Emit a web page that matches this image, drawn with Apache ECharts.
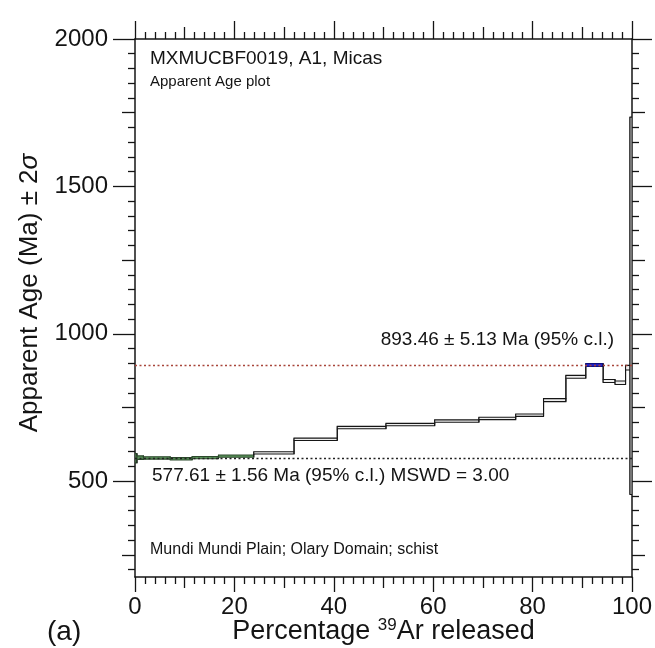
<!DOCTYPE html>
<html><head><meta charset="utf-8">
<script src="https://cdn.jsdelivr.net/npm/echarts@6/dist/echarts.min.js"></script>
<style>html,body{margin:0;padding:0;background:#fff}#c{width:655px;height:648px}</style>
</head><body><div id="c"></div>
<script>
// ---- data ----
const stepStart = [0, 0.4, 1.7, 7.1, 11.5, 16.8, 23.9, 32.0, 40.7, 50.5, 60.3, 69.2, 76.6, 82.2, 86.7, 90.7, 94.2, 96.6, 98.7, 99.6];
const stepEnd   = [0.4, 1.7, 7.1, 11.5, 16.8, 23.9, 32.0, 40.7, 50.5, 60.3, 69.2, 76.6, 82.2, 86.7, 90.7, 94.2, 96.6, 98.7, 99.6, 100];
const stepAge   = [578, 580, 579, 576, 580, 585, 596, 642, 682, 692, 704, 713, 724, 775, 854, 894, 840, 834, 885, 1095];
const stepErr2s = [16, 6, 4, 4, 4, 4, 4, 4, 4, 4, 4, 4, 4, 5, 5, 5, 5, 6, 8, 640];
const plateauSteps = [0, 1, 2, 3, 4, 5];
const meanSteps = [15];
const plateauAge = 577.61, plateauErr = 1.56, plateauMSWD = 3.00;
const meanAge = 893.46, meanErr = 5.13;
const yMajorTicks = [500, 1000, 1500, 2000];
const yMediumTicks = [250, 750, 1250, 1750];
const xMajorTicks = [0, 20, 40, 60, 80, 100];
const xMediumTicks = [10, 30, 50, 70, 90];
const yMin = 175, yMax = 2000, yMinorStep = 50;
const xMin = 0, xMax = 100, xMinorStep = 2;

const yMinorTicks = [];
for (let v = Math.ceil(yMin / yMinorStep) * yMinorStep; v < yMax; v += yMinorStep) {
  if (v % 250 !== 0) yMinorTicks.push(v);
}
const xMinorTicks = [];
for (let v = xMin + xMinorStep; v < xMax; v += xMinorStep) {
  if (v % 10 !== 0) xMinorTicks.push(v);
}

const FONT = "'Liberation Sans', Arial, Helvetica, sans-serif";
const INK = '#141414';

const stepData = stepAge.map((a, i) => [stepStart[i], stepEnd[i], a, stepErr2s[i],
  plateauSteps.includes(i) ? 1 : (meanSteps.includes(i) ? 2 : 0)]);

const GRID = { left: 135, right: 23, top: 39, bottom: 71, containLabel: false, outerBoundsMode: 'none' };
const grids = [0, 1, 2, 3, 4, 5].map(() => Object.assign({}, GRID));

function xAxisDef(g, pos, ticks, len, opts) {
  return Object.assign({
    type: 'value', position: pos, min: xMin, max: xMax, gridIndex: g,
    axisLine: { show: false, onZero: false },
    axisTick: { show: true, inside: false, length: len, customValues: ticks, lineStyle: { color: INK, width: 1.3 } },
    axisLabel: { show: false },
    splitLine: { show: false }
  }, opts || {});
}
function yAxisDef(g, pos, ticks, len, opts) {
  return Object.assign({
    type: 'value', position: pos, min: yMin, max: yMax, gridIndex: g,
    axisLine: { show: false, onZero: false },
    axisTick: { show: true, inside: false, length: len, customValues: ticks, lineStyle: { color: INK, width: 1.3 } },
    axisLabel: { show: false },
    splitLine: { show: false }
  }, opts || {});
}
const LINE = { show: true, onZero: false, lineStyle: { color: INK, width: 1.5 } };

const chart = echarts.init(document.getElementById('c'), null, { renderer: 'canvas' });
const option = {
  backgroundColor: '#ffffff',
  animation: false,
  grid: grids,
  xAxis: [
    xAxisDef(0, 'bottom', xMajorTicks, 15, {
      axisLine: LINE,
      axisLabel: { show: true, customValues: xMajorTicks, fontSize: 24, fontFamily: FONT, color: INK, margin: 18,
        formatter: v => String(v) },
      name: 'Percentage {sup|39}Ar released', nameLocation: 'middle', nameGap: 40, nameMoveOverlap: false,
      nameTextStyle: { fontSize: 27, fontFamily: FONT, color: INK,
        rich: { sup: { fontSize: 17, fontFamily: FONT, color: INK, padding: [0, 0, 13, 0] } } }
    }),
    xAxisDef(1, 'bottom', xMediumTicks, 11),
    xAxisDef(2, 'bottom', xMinorTicks, 7),
    xAxisDef(3, 'top', xMajorTicks, 18, { axisLine: LINE }),
    xAxisDef(4, 'top', xMediumTicks, 12),
    xAxisDef(5, 'top', xMinorTicks, 7)
  ],
  yAxis: [
    yAxisDef(0, 'left', yMajorTicks, 22, {
      axisLine: LINE,
      axisLabel: { show: true, customValues: yMajorTicks, fontSize: 24, fontFamily: FONT, color: INK, margin: 27,
        formatter: v => String(v) },
      name: 'Apparent Age (Ma) ± 2{s|σ}', nameLocation: 'middle', nameRotate: 90, nameGap: 92, nameMoveOverlap: false,
      nameTextStyle: { fontSize: 26, fontFamily: FONT, color: INK, padding: [0, 0, 0, 30],
        rich: { s: { fontSize: 26, fontFamily: FONT, fontStyle: 'italic', color: INK } } }
    }),
    yAxisDef(1, 'left', yMediumTicks, 13),
    yAxisDef(2, 'left', yMinorTicks, 7),
    yAxisDef(3, 'right', yMajorTicks, 20, { axisLine: LINE }),
    yAxisDef(4, 'right', yMediumTicks, 13),
    yAxisDef(5, 'right', yMinorTicks, 7)
  ],
  series: [
    {
      type: 'line', xAxisIndex: 0, yAxisIndex: 0, data: [], silent: true,
      markLine: {
        silent: true, symbol: 'none', label: { show: false },
        data: [
          { yAxis: meanAge, lineStyle: { color: '#a8453a', type: [2, 2.5], width: 1.4 } },
          { yAxis: plateauAge, lineStyle: { color: '#222222', type: [2, 2.5], width: 1.4 } }
        ]
      }
    },
    {
      type: 'custom', xAxisIndex: 0, yAxisIndex: 0, clip: true,
      encode: { x: [0, 1], y: [2] },
      data: stepData,
      renderItem: function (params, api) {
        const i = params.dataIndex;
        const x0 = api.value(0), x1 = api.value(1), a = api.value(2), e = api.value(3), k = api.value(4);
        const pTop = api.coord([x0, a + e]);
        const pBot = api.coord([x1, a - e]);
        const fill = k === 1 ? '#5a945a' : (k === 2 ? '#2222c4' : '#eeeeee');
        const stroke = k === 1 ? '#2c4a2c' : (k === 2 ? '#10107e' : '#161616');
        const children = [{
          type: 'rect',
          shape: { x: pTop[0], y: pTop[1], width: pBot[0] - pTop[0], height: Math.max(pBot[1] - pTop[1], 1) },
          style: { fill: fill, stroke: stroke, lineWidth: 1.1 }
        }];
        if (i < stepData.length - 1) {
          const n = stepData[i + 1];
          const u0 = api.coord([x1, a + e]), u1 = api.coord([x1, n[2] + n[3]]);
          const l0 = api.coord([x1, a - e]), l1 = api.coord([x1, n[2] - n[3]]);
          children.push({ type: 'line', shape: { x1: u0[0], y1: u0[1], x2: u1[0], y2: u1[1] }, style: { stroke: '#161616', lineWidth: 1.1 } });
          children.push({ type: 'line', shape: { x1: l0[0], y1: l0[1], x2: l1[0], y2: l1[1] }, style: { stroke: '#161616', lineWidth: 1.1 } });
        }
        return { type: 'group', children: children };
      }
    }
  ],
  graphic: [
    { type: 'text', left: 150, top: 49, style: { text: 'MXMUCBF0019, A1, Micas', font: '19px ' + FONT, fill: INK } },
    { type: 'text', left: 150, top: 74, style: { text: 'Apparent Age plot', font: '15px ' + FONT, fill: INK } },
    { type: 'text', left: 150, top: 542, style: { text: 'Mundi Mundi Plain; Olary Domain; schist', font: '16px ' + FONT, fill: INK } },
    { type: 'text', right: 41, top: 330, style: { text: meanAge.toFixed(2) + ' ± ' + meanErr.toFixed(2) + ' Ma (95% c.l.)', font: '19px ' + FONT, fill: INK } },
    { type: 'text', left: 152, top: 466, style: { text: plateauAge.toFixed(2) + ' ± ' + plateauErr.toFixed(2) + ' Ma (95% c.l.) MSWD = ' + plateauMSWD.toFixed(2), font: '19px ' + FONT, fill: INK } },
    { type: 'text', left: 47, top: 618, style: { text: '(a)', font: '28px ' + FONT, fill: INK } }
  ]
};
chart.setOption(option);
</script>
</body></html>
